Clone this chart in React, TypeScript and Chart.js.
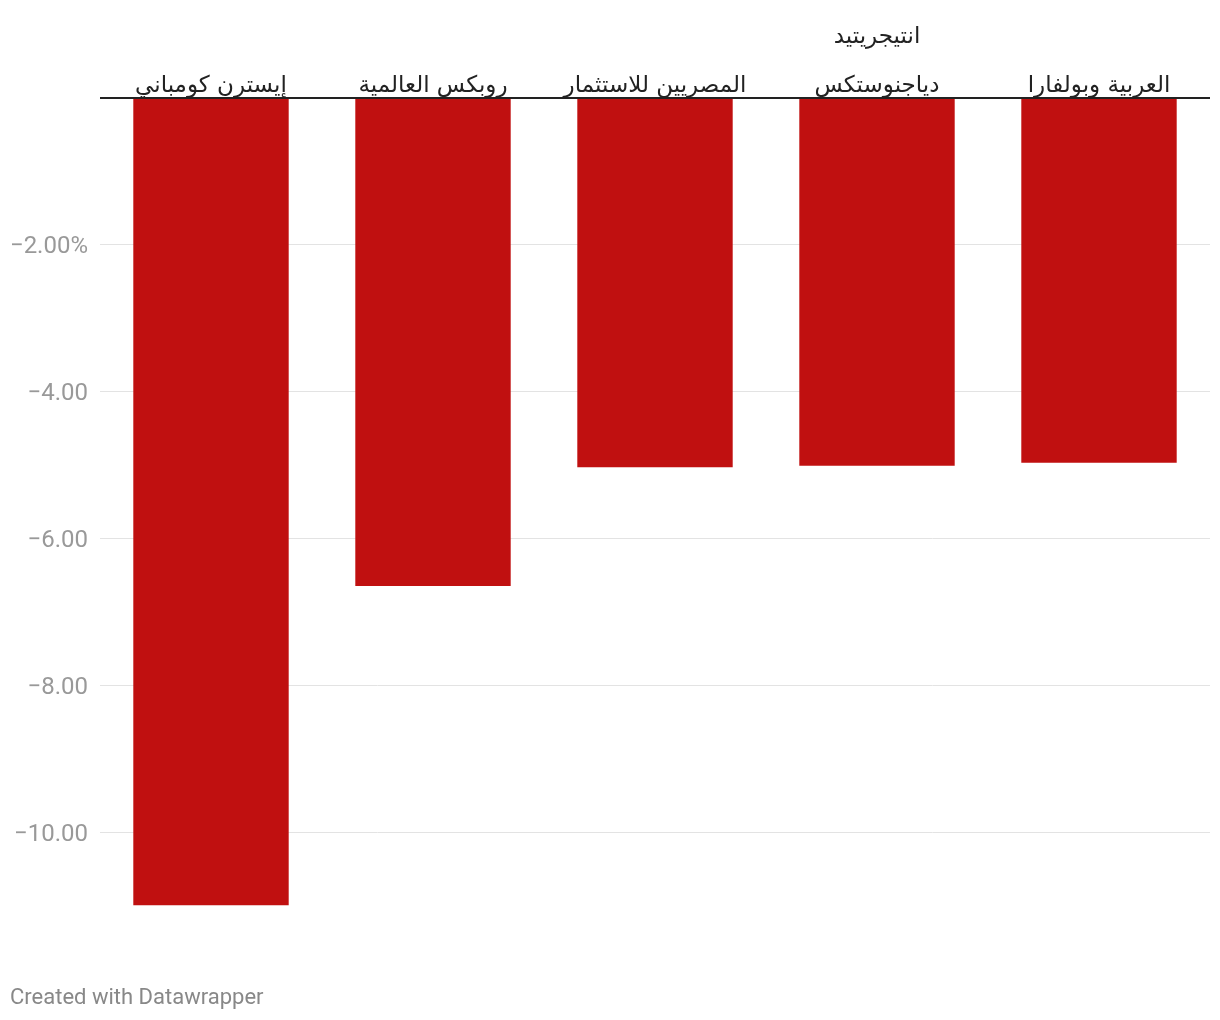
import React, { useEffect, useRef } from "react";
import { Chart, registerables } from "chart.js";

Chart.register(...registerables);

const categories: (string | string[])[] = [
  "إيسترن كومباني",
  "روبكس العالمية",
  "المصريين للاستثمار",
  ["انتيجريتيد", "دياجنوستكس"],
  "العربية وبولفارا",
];
const values: number[] = [-11.0, -6.65, -5.03, -5.01, -4.97];
const yTicks: number[] = [0, -2, -4, -6, -8, -10];

const zeroLine = {
  id: "zeroLine",
  afterDatasetsDraw(chart: any) {
    const { ctx, chartArea, scales } = chart;
    const y = scales.y.getPixelForValue(0);
    ctx.save();
    ctx.strokeStyle = "#222";
    ctx.lineWidth = 2;
    ctx.beginPath();
    ctx.moveTo(chartArea.left, y);
    ctx.lineTo(chartArea.right, y);
    ctx.stroke();
    ctx.restore();
  },
};

export default function App() {
  const ref = useRef<HTMLCanvasElement | null>(null);
  useEffect(() => {
    if (!ref.current) return;
    const chart = new Chart(ref.current, {
      type: "bar",
      data: {
        labels: categories,
        datasets: [
          {
            data: values,
            backgroundColor: "#c01010",
            barPercentage: 0.7,
            categoryPercentage: 1,
          },
        ],
      },
      plugins: [zeroLine],
      options: {
        animation: false,
        responsive: true,
        maintainAspectRatio: false,
        layout: { padding: { left: 0, right: 10, top: 0, bottom: 114.6 } },
        plugins: { legend: { display: false }, tooltip: { enabled: false } },
        scales: {
          x: {
            position: "top",
            grid: { display: false },
            border: { display: false },
            afterFit: (s: any) => {
              s.height = 98;
            },
            ticks: {
              color: "#222",
              maxRotation: 0,
              autoSkip: false,
              padding: -21,
              font: {
                family: '"DejaVu Sans", sans-serif',
                size: 23,
                lineHeight: "49px",
              },
            },
          },
          y: {
            min: -11,
            max: 0,
            border: { display: false },
            afterFit: (s: any) => {
              s.width = 100;
            },
            afterBuildTicks: (s: any) => {
              s.ticks = yTicks.map((v) => ({ value: v }));
            },
            grid: {
              drawTicks: false,
              color: (c: any) => (c.tick && c.tick.value === 0 ? "rgba(0,0,0,0)" : "#e3e3e3"),
              lineWidth: 1,
            },
            ticks: {
              padding: 12,
              color: "#999",
              font: { family: "Roboto, sans-serif", size: 24, lineHeight: "5px" },
              callback: (v: any) => {
                const n = Number(v);
                if (n === 0) return "";
                const s = "\u2212" + Math.abs(n).toFixed(2);
                return ["", n === -2 ? s + "%" : s];
              },
            },
          },
        },
      },
    });
    return () => chart.destroy();
  }, []);

  return (
    <div style={{ position: "absolute", left: 0, top: 0, width: 1220, height: 1020, background: "#fff" }}>
      <canvas ref={ref} />
      <div
        style={{
          position: "absolute",
          left: 10,
          top: 984,
          fontFamily: "Roboto, sans-serif",
          fontSize: 22,
          color: "#888",
          whiteSpace: "nowrap",
        }}
      >
        Created with Datawrapper
      </div>
    </div>
  );
}
